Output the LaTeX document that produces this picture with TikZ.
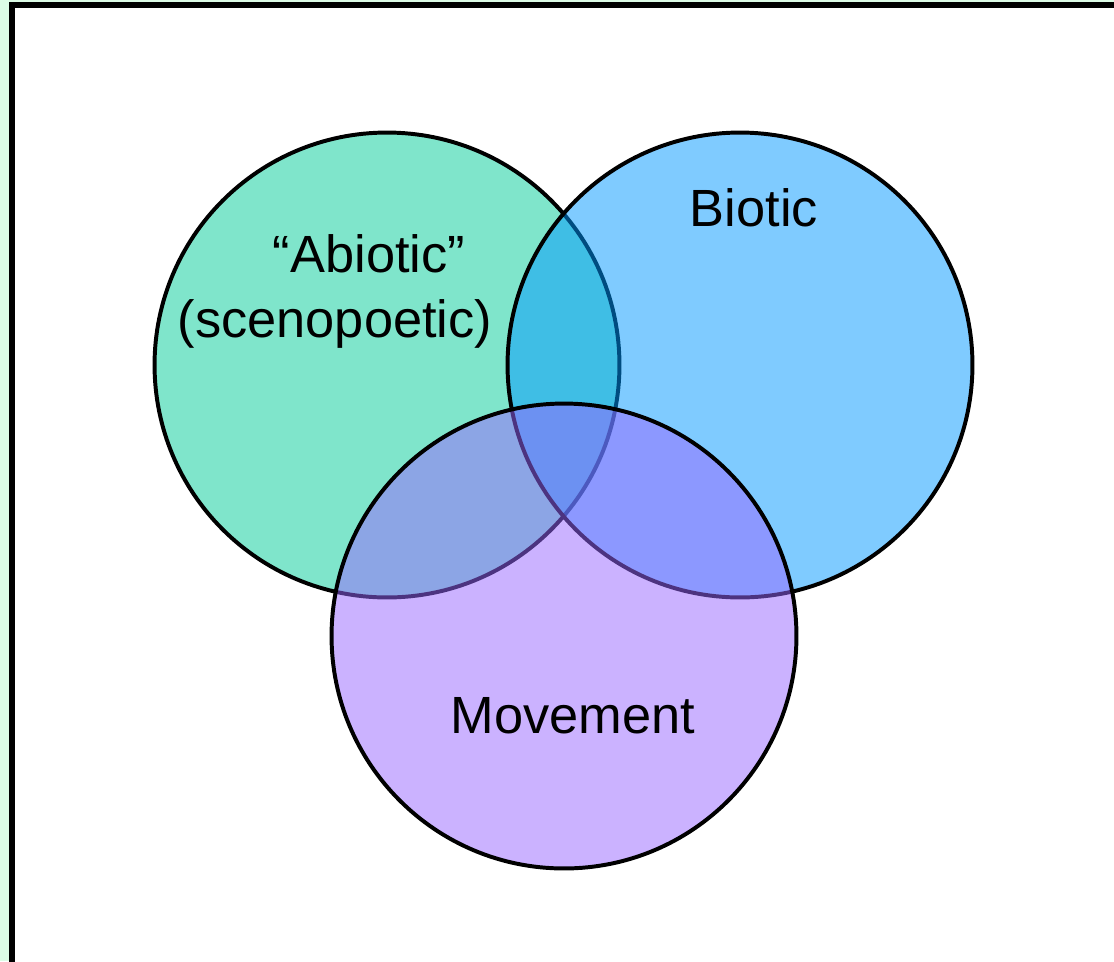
\documentclass[tikz,border=0pt]{standalone}
\usepackage{fontspec}
\setmainfont{Liberation Sans}
\usepackage{xcolor,tikz}
\definecolor{backgreen}{HTML}{DCFCE6}
\definecolor{abiocol}{HTML}{00CC99}
\definecolor{biocol}{HTML}{0099FF}
\definecolor{movecol}{HTML}{9966FF}
\tikzset{
  venn/.style={circle,draw=black,line width=3pt*0.75,minimum size=9.3cm,inner sep=0pt,fill opacity=0.5,draw opacity=1},
  label text/.style={font=\fontsize{29.8}{36}\selectfont,anchor=base,text=black}
}

\begin{document}
\begin{tikzpicture}[x=0.02cm,y=-0.02cm]
\useasboundingbox (0,0) rectangle (1114,961);
\fill[backgreen](0,0)rectangle(1114,961);
\draw[fill=white,line width=3pt](12,5)rectangle(1140,990);
% the three sets
\node[venn,fill=abiocol] (abiotic) at (387,365) {};
\node[venn,fill=biocol] (biotic) at (740,365) {};
\node[venn,fill=movecol] (movement) at (564,636) {};
% labels
\node[label text] (abiname) at (369,272) {“Abiotic”};
\node[label text] (abisub) at (335,337) {(scenopoetic)};
\node[label text] (bioname) at (754,226) {Biotic};
\node[label text] (movename) at (573,733) {Movement};
\end{tikzpicture}
\end{document}
